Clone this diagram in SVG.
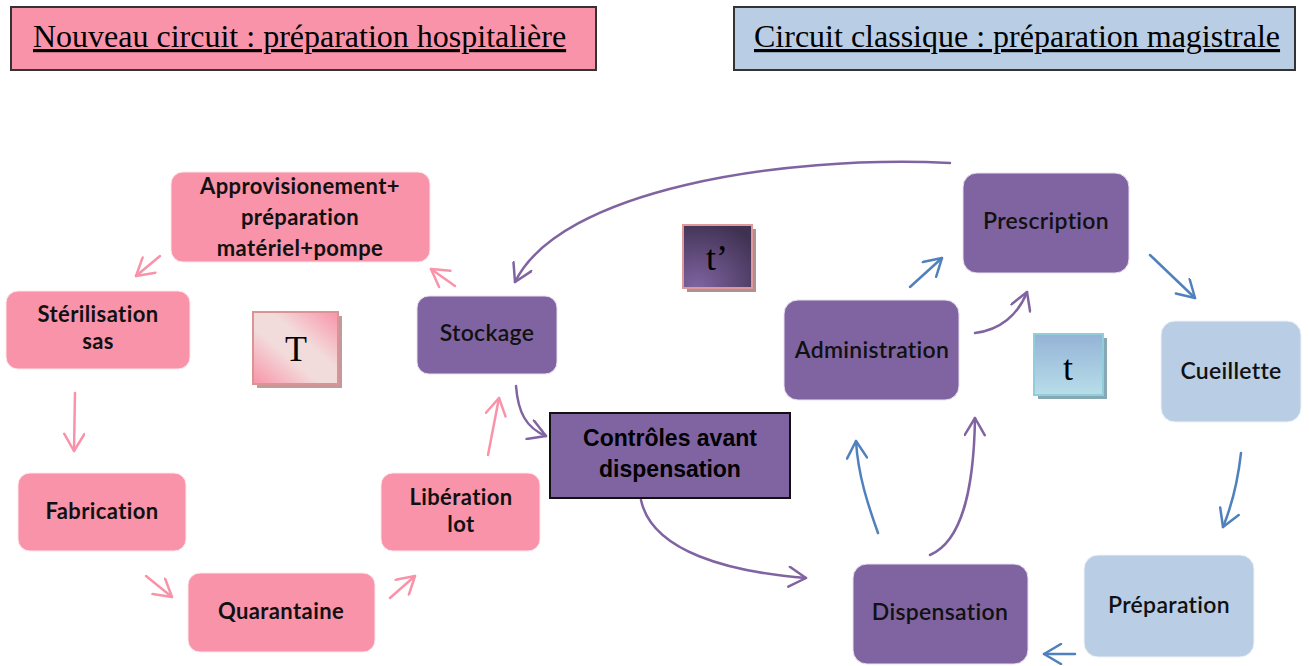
<svg xmlns="http://www.w3.org/2000/svg" width="1309" height="666" viewBox="0 0 1309 666">
<style>
.title{font-family:"Liberation Serif","Times New Roman",serif;font-size:32px;fill:#000;text-decoration:underline}
.nd{font-family:Lato,"Liberation Sans",sans-serif;font-weight:bold;font-size:22px;fill:#111;text-anchor:middle;letter-spacing:0.4px}
.np{font-family:Lato,"Liberation Sans",sans-serif;font-weight:600;font-size:23px;fill:#111;text-anchor:middle;letter-spacing:0.3px}
.pink{fill:#F993A9;stroke:#fde6ea;stroke-width:1}
.purple{fill:#8064A2;stroke:#e8e0f0;stroke-width:1}
.blue{fill:#B9CDE5;stroke:#eef3f9;stroke-width:1}
.lbl{font-family:"Liberation Serif","Times New Roman",serif;font-size:36px;fill:#000;text-anchor:middle}
.cp{fill:none;stroke:#F993A9;stroke-width:2.5;stroke-linecap:round;marker-end:url(#ap)}
.cv{fill:none;stroke:#8064A2;stroke-width:2.5;stroke-linecap:round;marker-end:url(#av)}
.cb{fill:none;stroke:#4F81BD;stroke-width:2.5;stroke-linecap:round;marker-end:url(#ab)}
</style>
<defs>
<marker id="ap" viewBox="0 0 22 22" refX="20" refY="11" markerWidth="22" markerHeight="22" markerUnits="userSpaceOnUse" orient="auto"><path d="M3,1 L20,11 L3,21" fill="none" stroke="#F993A9" stroke-width="2.5" stroke-linecap="round" stroke-linejoin="round"/></marker>
<marker id="av" viewBox="0 0 22 22" refX="20" refY="11" markerWidth="22" markerHeight="22" markerUnits="userSpaceOnUse" orient="auto"><path d="M3,1 L20,11 L3,21" fill="none" stroke="#8064A2" stroke-width="2.5" stroke-linecap="round" stroke-linejoin="round"/></marker>
<marker id="ab" viewBox="0 0 22 22" refX="20" refY="11" markerWidth="22" markerHeight="22" markerUnits="userSpaceOnUse" orient="auto"><path d="M3,1 L20,11 L3,21" fill="none" stroke="#4F81BD" stroke-width="2.5" stroke-linecap="round" stroke-linejoin="round"/></marker>
<linearGradient id="gT" x1="0" y1="1" x2="1" y2="0"><stop offset="0" stop-color="#F993A9"/><stop offset="0.4" stop-color="#F2DCDB"/><stop offset="0.6" stop-color="#F2DCDB"/><stop offset="1" stop-color="#F993A9"/></linearGradient>
<radialGradient id="gt2" cx="0.2" cy="1" r="1.1"><stop offset="0" stop-color="#8064A2"/><stop offset="1" stop-color="#3F3151"/></radialGradient>
<linearGradient id="gt" x1="0" y1="0" x2="0" y2="1"><stop offset="0" stop-color="#95B3D7"/><stop offset="1" stop-color="#B7DEE8"/></linearGradient>
</defs>

<g id="title-left">
<rect x="11" y="7" width="585" height="63" fill="#F993A9" stroke="#333" stroke-width="2"/>
<text class="title" x="33" y="47">Nouveau circuit : préparation hospitalière</text>
</g>
<g id="title-right">
<rect x="734" y="7" width="561" height="63" fill="#B9CDE5" stroke="#333" stroke-width="2"/>
<text class="title" x="754" y="47">Circuit classique : préparation magistrale</text>
</g>

<g id="connectors">
<path class="cp" d="M160,256 L136,276"/>
<path class="cp" d="M75,393 L74,451"/>
<path class="cp" d="M146,576 L172,597"/>
<path class="cp" d="M390,598 L415,576"/>
<path class="cp" d="M488,455 L499,398"/>
<path class="cp" d="M455,286 L431,269"/>
<path class="cv" d="M950,163 C780,155 560,190 515,282"/>
<path class="cv" d="M516,386 C518,412 526,428 546,436"/>
<path class="cv" d="M641,500 C652,552 730,572 806,578"/>
<path class="cv" d="M930,555 C965,540 974,480 975,418"/>
<path class="cv" d="M975,333 C1000,330 1018,315 1027,292"/>
<path class="cb" d="M878,533 C868,505 858,475 856,441"/>
<path class="cb" d="M910,287 L942,258"/>
<path class="cb" d="M1150,255 L1195,298"/>
<path class="cb" d="M1241,453 C1238,480 1232,505 1223,527"/>
<path class="cb" d="M1075,654 L1044,654"/>
</g>

<g id="n-approvisionement">
<rect class="pink" x="171" y="172" width="259" height="90" rx="12"/>
<text class="nd" x="300" y="194">Approvisionement+</text>
<text class="nd" x="300" y="225">préparation</text>
<text class="nd" x="300" y="256">matériel+pompe</text>
</g>
<g id="n-sterilisation">
<rect class="pink" x="6" y="291" width="184" height="78" rx="12"/>
<text class="nd" x="98" y="322">Stérilisation</text>
<text class="nd" x="98" y="349">sas</text>
</g>
<g id="n-fabrication">
<rect class="pink" x="18" y="473" width="168" height="78" rx="12"/>
<text class="nd" x="102" y="519">Fabrication</text>
</g>
<g id="n-quarantaine">
<rect class="pink" x="188" y="573" width="187" height="79" rx="12"/>
<text class="nd" x="281" y="619">Quarantaine</text>
</g>
<g id="n-liberation">
<rect class="pink" x="381" y="473" width="159" height="78" rx="12"/>
<text class="nd" x="461" y="505">Libération</text>
<text class="nd" x="461" y="532">lot</text>
</g>
<g id="n-stockage">
<rect class="purple" x="417" y="296" width="140" height="78" rx="12"/>
<text class="np" x="487" y="341">Stockage</text>
</g>
<g id="n-controles">
<rect x="550" y="413" width="240" height="85" fill="#8064A2" stroke="#111" stroke-width="2"/>
<text x="670" y="446" font-family="'Liberation Sans',Arial,sans-serif" font-weight="bold" font-size="23" text-anchor="middle" fill="#000">Contrôles avant</text>
<text x="670" y="477" font-family="'Liberation Sans',Arial,sans-serif" font-weight="bold" font-size="23" text-anchor="middle" fill="#000">dispensation</text>
</g>
<g id="n-administration">
<rect class="purple" x="784" y="300" width="175" height="100" rx="14"/>
<text class="np" x="872" y="358">Administration</text>
</g>
<g id="n-prescription">
<rect class="purple" x="963" y="173" width="166" height="100" rx="14"/>
<text class="np" x="1046" y="229">Prescription</text>
</g>
<g id="n-cueillette">
<rect class="blue" x="1161" y="321" width="140" height="101" rx="14"/>
<text class="np" x="1231" y="379">Cueillette</text>
</g>
<g id="n-preparation">
<rect class="blue" x="1084" y="555" width="170" height="102" rx="14"/>
<text class="np" x="1169" y="613">Préparation</text>
</g>
<g id="n-dispensation">
<rect class="purple" x="853" y="564" width="175" height="100" rx="14"/>
<text class="np" x="940" y="620">Dispensation</text>
</g>

<g id="label-T">
<rect x="257" y="316" width="85" height="72" fill="#C09A9C"/>
<rect x="253" y="312" width="85" height="72" fill="url(#gT)" stroke="#D99594" stroke-width="2"/>
<text class="lbl" x="296" y="361">T</text>
</g>
<g id="label-t-prime">
<rect x="687" y="229" width="69" height="63" fill="#B09092"/>
<rect x="683" y="225" width="69" height="63" fill="url(#gt2)" stroke="#E0989A" stroke-width="2"/>
<text class="lbl" x="717" y="270">t’</text>
</g>
<g id="label-t">
<rect x="1038" y="338" width="69" height="61" fill="#86A8B2"/>
<rect x="1034" y="334" width="69" height="61" fill="url(#gt)" stroke="#92CDDC" stroke-width="2"/>
<text class="lbl" x="1068" y="380">t</text>
</g>
</svg>
